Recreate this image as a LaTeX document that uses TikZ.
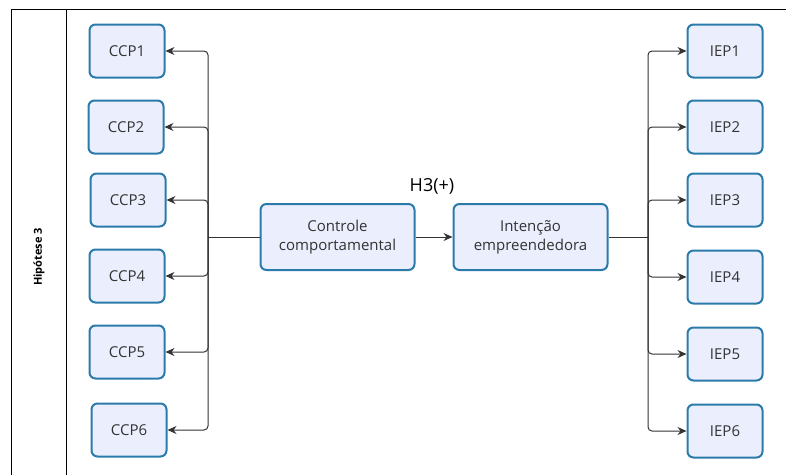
\documentclass[tikz,border=0pt]{standalone}
\usepackage{fontspec}
\setmainfont{Open Sans}
\usetikzlibrary{arrows.meta}
\definecolor{boxfill}{HTML}{EBEEFD}
\definecolor{boxline}{HTML}{2B7BAA}
\definecolor{ink}{HTML}{333333}
\tikzset{
  itembox/.style={draw=boxline, fill=boxfill, line width=2pt, rounded corners=6pt,
    minimum width=75pt, minimum height=53pt, text=ink, font=\fontsize{15}{19}\selectfont},
  wide/.style={itembox, minimum width=154pt, minimum height=66pt, align=center},
  conn/.style={draw=ink, line width=1pt, rounded corners=4pt,
    -{Stealth[length=9pt, width=8pt]}},
  frame/.style={draw=black, line width=1pt}
}
\begin{document}
\begin{tikzpicture}[x=1pt, y=-1pt]
  \useasboundingbox (0,0) rectangle (786,475);
  % swimlane frame
  \draw[frame] (11,475) -- (11,9) -- (786,9);
  \draw[frame] (66,9) -- (66,475);
  \node[rotate=90, font=\bfseries\fontsize{11}{12}\selectfont, text=black] (lane) at (39,257) {Hipótese 3};

  % indicator boxes
  \node[itembox] (c1) at (127,51) {CCP1};
  \node[itembox] (c2) at (126,127) {CCP2};
  \node[itembox] (c3) at (128,200) {CCP3};
  \node[itembox] (c4) at (127,276) {CCP4};
  \node[itembox] (c5) at (127,352) {CCP5};
  \node[itembox] (c6) at (129,430) {CCP6};

  \node[itembox] (e1) at (725,51) {IEP1};
  \node[itembox] (e2) at (725,127) {IEP2};
  \node[itembox] (e3) at (725,200) {IEP3};
  \node[itembox] (e4) at (725,277) {IEP4};
  \node[itembox] (e5) at (725,354) {IEP5};
  \node[itembox] (e6) at (725,431) {IEP6};

  % constructs
  \node[wide] (ctrl) at (337.5,237) {Controle\\comportamental};
  \node[wide] (int) at (530.5,237) {Intenção\\empreendedora};
  \node[text=black, font=\fontsize{18}{20}\selectfont] (h3) at (432,186) {H3(+)};

  \coordinate (lbus) at (208,237);
  \coordinate (rbus) at (648,237);

  \draw[conn, -] (ctrl.west) -- (lbus);
  \foreach \n in {c1,c2,c3,c4,c5,c6}
    \draw[conn] (lbus) |- (\n.east);
  \draw[conn] (ctrl.east) -- (int.west);
  \draw[conn, -] (int.east) -- (rbus);
  \foreach \n in {e1,e2,e3,e4,e5,e6}
    \draw[conn] (rbus) |- (\n.west);
\end{tikzpicture}
\end{document}
